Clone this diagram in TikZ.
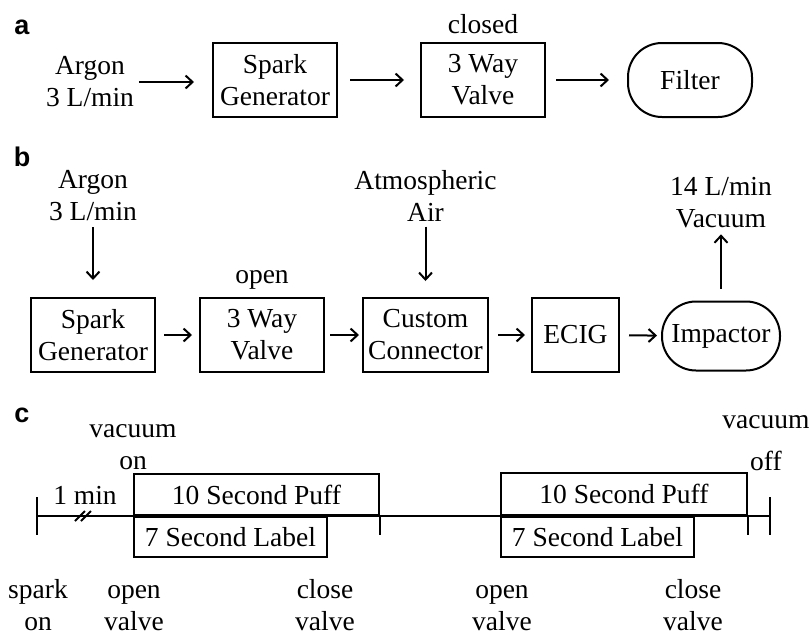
\documentclass[tikz,border=0pt]{standalone}
\usepackage{fontspec}
\setmainfont{Liberation Serif}
\setsansfont{Liberation Sans}
\usetikzlibrary{arrows.meta,positioning}

\tikzset{
  blk/.style={draw, line width=2pt, minimum width=124pt, minimum height=74pt, align=center, inner sep=0pt},
  pill/.style={blk, rounded corners=34pt},
  txt/.style={align=center, inner sep=0pt},
  panel/.style={font=\sffamily\bfseries\fontsize{27}{30}\selectfont, inner sep=0pt},
  flow/.style={line width=2pt, -{Straight Barb[length=7pt,width=13pt]}},
  tbox/.style={draw, line width=2pt, inner sep=0pt}
}

\begin{document}
\begin{tikzpicture}[x=1pt, y=-1pt, font=\fontsize{27.5}{32}\selectfont, line width=2pt]
    \useasboundingbox (0,0) rectangle (809,635);

    % a: valve closed, argon goes to the filter
    \node[panel] (la) at (22,27) {a};
    \node[txt] (argonA) at (90,82) {Argon\\3 L/min};
    \node[blk] (sparkA) at (275,80) {Spark\\Generator};
    \node[blk] (valveA) at (483,80) {3 Way\\Valve};
    \node[pill] (filter) at (690,80) {Filter};
    \node[txt, above=7pt of valveA] (closed) {closed};

    \draw[flow, shorten <=4pt, shorten >=18pt] (argonA.east) -- (sparkA.west |- argonA.east);
    \draw[flow, shorten <=12pt, shorten >=16pt] (sparkA) -- (valveA);
    \draw[flow, shorten <=10pt, shorten >=18pt] (valveA) -- (filter);

    % b: valve open, aerosol through the ECIG
    \node[panel] (lb) at (22,157) {b};
    \node[blk] (sparkB) at (93,335) {Spark\\Generator};
    \node[blk] (valveB) at (262,335) {3 Way\\Valve};
    \node[blk, minimum width=125pt] (conn) at (425.5,335) {Custom\\Connector};
    \node[blk, minimum width=87pt] (ecig) at (575.5,335) {ECIG};
    \node[pill, minimum width=118pt, minimum height=69pt] (impactor) at (721,336) {Impactor};
    \node[txt, above=7pt of valveB] (open) {open};

    \node[txt] (argonB) at (93,196) {Argon\\3 L/min};
    \node[txt] (air) at (425.5,196) {Atmospheric\\Air};
    \node[txt] (vacuum) at (721,203) {14 L/min\\Vacuum};

    \draw[flow, shorten <=5pt, shorten >=17pt] (argonB) -- (sparkB);
    \draw[flow, shorten <=4pt, shorten >=16pt] (air) -- (conn);
    \draw[flow, shorten <=12pt, shorten >=5pt] (impactor) -- (vacuum);

    \draw[flow, shorten <=8pt, shorten >=7pt] (sparkB) -- (valveB);
    \draw[flow, shorten <=5pt, shorten >=3pt] (valveB) -- (conn);
    \draw[flow, shorten <=9pt, shorten >=6pt] (conn) -- (ecig);
    \draw[flow, shorten <=9pt, shorten >=4pt] (ecig) -- (impactor);

    % c: timeline
    \node[panel] (lc) at (22,415) {c};
    \draw (37,497) -- (37,535);
    \draw (37,516) -- (770,516);
    \draw (770,497) -- (770,535);
    \draw (75,521) -- (85,511) (81,521) -- (91,511);

    \node[tbox, anchor=south west, minimum width=245pt, minimum height=41pt] (puff1) at (133,516) {10 Second Puff};
    \node[tbox, anchor=north west, minimum width=193pt, minimum height=40pt] (label1) at (133,516) {7 Second Label};
    \draw (puff1.south east) -- ++(0,19);

    \node[tbox, anchor=south west, minimum width=246pt, minimum height=42pt] (puff2) at (500,516) {10 Second Puff};
    \node[tbox, anchor=north west, minimum width=193pt, minimum height=40pt] (label2) at (500,516) {7 Second Label};
    \draw (puff2.south east) -- ++(0,19);

    \node[txt] (von) at (133,442) {\strut vacuum\\on};
    \node[txt] (voff) at (766,443) {vacuum\\[10pt]off};
    \node[txt] (onemin) at (85,495) {1 min};

    % strut keeps the baselines of the lower labels level
    \node[txt] (spark) at (38,603) {\strut spark\\on};
    \node[txt] (open1) at (134,603) {\strut open\\valve};
    \node[txt] (close1) at (325,603) {\strut close\\valve};
    \node[txt] (open2) at (502,603) {\strut open\\valve};
    \node[txt] (close2) at (693,603) {\strut close\\valve};
\end{tikzpicture}
\end{document}
